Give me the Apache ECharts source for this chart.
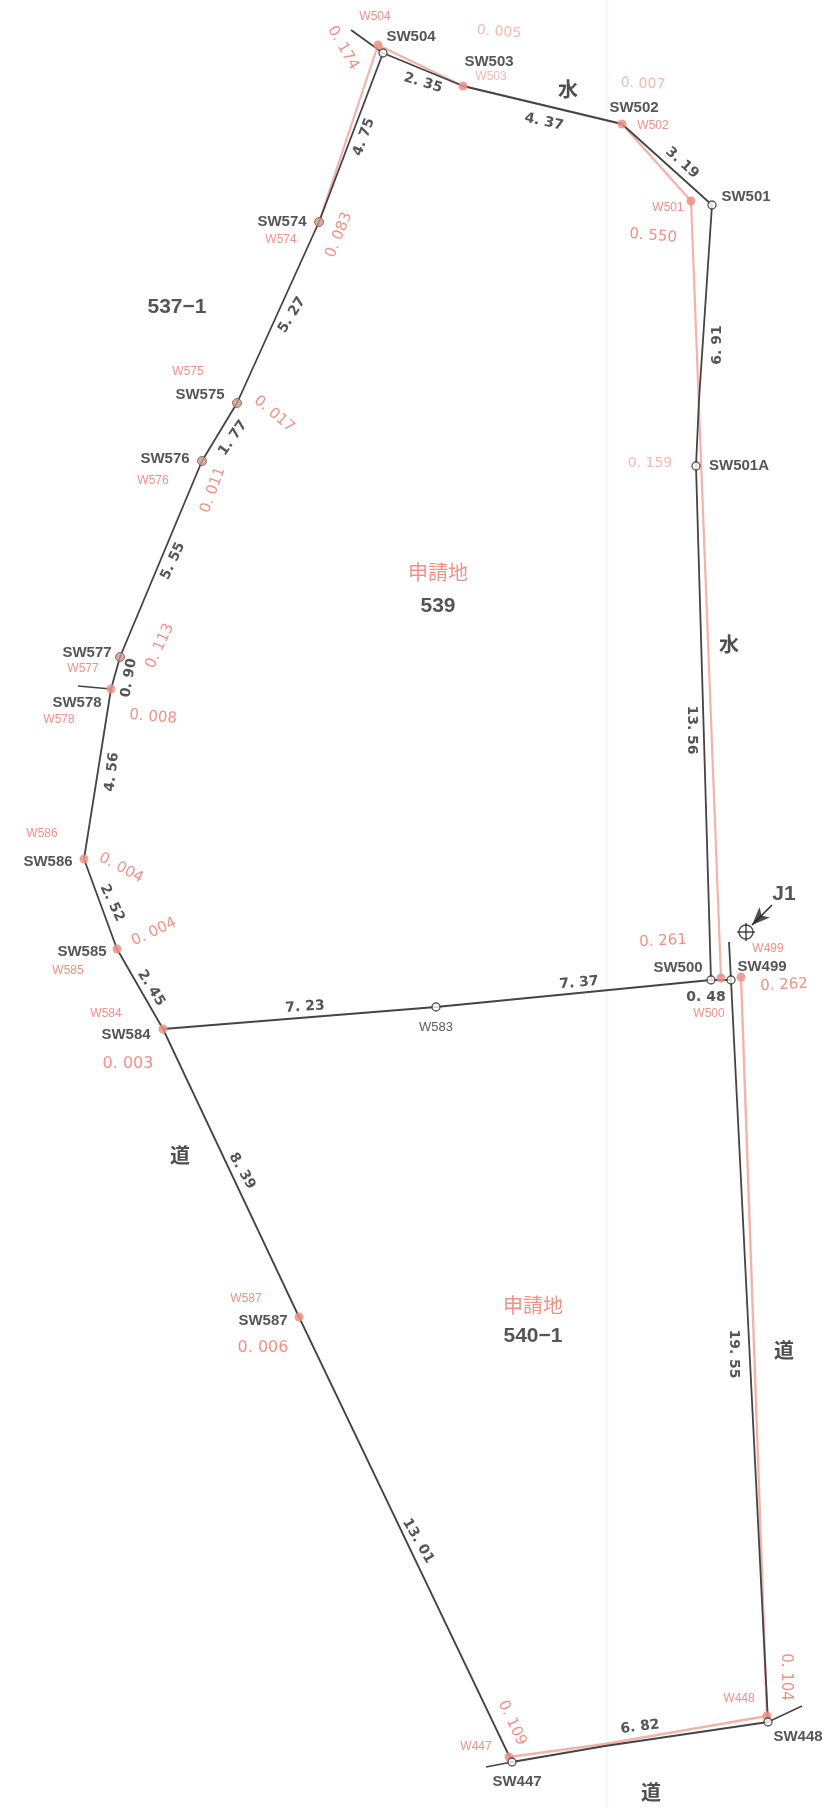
<!DOCTYPE html>
<html><head><meta charset="utf-8">
<style>html,body{margin:0;padding:0;background:#fff}#c{width:826px;height:1809px}</style>
<script src="https://cdn.jsdelivr.net/npm/echarts@6/dist/echarts.min.js"></script>
</head><body><div id="c"></div>
<script>
// boundary polylines
const boundaryNorth = [[351,30],[383,53],[463,86],[622,124],[712,205],[699,400],[696,466],[711,980]];
const boundaryWest = [[383,53],[319,222],[237,403],[202,461],[120,657],[111,689],[84,859],[117,949],[163,1029],[299,1317],[512,1762],[605,1746],[768,1722],[731,980],[729,942]];
const boundaryMiddle = [[163,1029],[436,1007],[711,980],[731,980]];
const stubs = [[[486,1767],[512,1762]],[[768,1722],[802,1706]],[[78,686],[111,689]]];
const oldLineA = [[319,222],[378,45],[463,86],[622,124],[691,201],[721,978]];
const oldLineB = [[741,977],[767,1716],[605,1744],[509,1757]];
const foldLine = [[607,0],[607,1809]];
const openNodes = [[383,53],[712,205],[696,466],[436,1007],[711,980],[731,980],[768,1722],[512,1762]];
const brownNodes = [[319,222],[237,403],[202,461],[120,657]];
const redNodes = [[378,45],[463,86],[622,124],[691,201],[111,689],[84,859],[117,949],[163,1029],[299,1317],[721,978],[741,977],[767,1716],[509,1757]];
const j1Mark = [[746,932]];
const j1Cross = [[[737,932],[755,932]],[[746,923],[746,941]]];
const j1Arrow = [[772,905],[752,925]];
const stationLabels = [
 ['SW504',411,37],['SW503',489,62],['SW502',634,108],['SW501',746,197],['SW574',282,222],['SW575',200,395],
 ['SW576',165,459],['SW577',87,653],['SW578',77,703],['SW586',48,862],['SW585',82,952],['SW584',126,1035],
 ['SW500',678,968],['SW499',762,967],['SW501A',739,466],['SW587',263,1321],['SW448',798,1737],['SW447',517,1782]];
const redStations = [
 ['W504',375,17],['W502',653,126],['W501',668,208],['W574',281,240],['W575',188,372],['W576',153,481],
 ['W577',83,669],['W578',59,720],['W586',42,834],['W585',68,971],['W584',106,1014],['W587',246,1299],['W500',709,1014],
 ['W499',768,949],['W448',739,1699],['W447',476,1747]];
const paleStations = [['W503',491,77]];
const offsets = [
 ['0. 174',343,48,-60],['0. 550',653,236,-5],['0. 083',339,235,68],
 ['0. 017',274,414,-40],['0. 011',213,490,70],['0. 113',160,646,65],['0. 008',153,717,-5],['0. 004',121,868,-28],
 ['0. 004',154,932,25],['0. 261',663,941,3],
 ['0. 262',784,985,3],['0. 109',512,1723,-65],['0. 104',786,1677,-90]];
const paleOffsets = [['0. 005',499,32,-5],['0. 007',643,84,-3],['0. 159',650,463,0]];
const largeOffsets = [['0. 003',128,1064,0],['0. 006',263,1348,0]];
const distances = [
 ['2. 35',423,83,-17],['4. 37',544,122,-12],['3. 19',682,163,-42],['4. 75',364,137,70],['5. 27',292,315,58],
 ['1. 77',233,438,55],['5. 55',173,561,65],['0. 90',129,678,80],['4. 56',112,772,83],['2. 52',112,903,-65],
 ['2. 45',151,988,-58],['7. 23',305,1007,4],['7. 37',579,983,5],['0. 48',706,997,0],['6. 91',717,345,90],
 ['13. 56',692,730,-90],['8. 39',242,1171,-60],['13. 01',418,1541,-60],['19. 55',734,1354,-90],['6. 82',640,1727,7]];
const parcels = [['537−1',177,307],['539',438,606],['540−1',533,1336],['J1',784,894]];
const parcelTitles = [['申請地',438,572],['申請地',533,1305]];
const landUse = [['水',568,89],['水',729,644],['道',180,1155],['道',784,1350],['道',651,1792]];
const smallLabels = [['W583',436,1027]];

const BLACK = '#444', RED = '#ee7468', PALE = '#f3b3aa', FAINT = '#f2a89e';
function poly(data, color, width, z){
  return {type:'line', data, symbol:'none', silent:true, z:z||2, lineStyle:{color, width}};
}
function texts(rows, font){
  return {type:'scatter', symbolSize:0, silent:true, z:6,
    data: rows.map(r => ({value:[r[1],r[2]], name:r[0],
      label:{show:true, position:'inside', align:'center', verticalAlign:'middle', formatter:r[0], rotate:r[3]||0, ...font}}))};
}
function nodes(data, size, style){
  return {type:'scatter', data, symbol:'circle', symbolSize:size, silent:true, z:4, itemStyle:style};
}
const LIB = '"Liberation Sans", Arial, sans-serif', DJ = '"DejaVu Sans", sans-serif', CJK = '"Noto Sans CJK JP", sans-serif';
const series = [
  poly(foldLine, '#f8f8f8', 3, 1),
  poly(oldLineA, PALE, 2.2, 2), poly(oldLineB, PALE, 2.4, 2),
  poly(boundaryNorth, BLACK, 1.8, 3), poly(boundaryWest, BLACK, 1.8, 3), poly(boundaryMiddle, BLACK, 1.8, 3),
  ...stubs.map(s => poly(s, BLACK, 1.4, 3)),
  ...j1Cross.map(s => poly(s, '#222', 1.2, 3)),
  poly(j1Arrow, '#222', 1.4, 3),
  {type:'scatter', data:[j1Arrow[1]], symbol:'arrow', symbolSize:[11,18], symbolRotate:135, silent:true, z:5, itemStyle:{color:'#222'}},
  nodes(redNodes, 9, {color:'#ec9086', opacity:.85}),
  nodes(brownNodes, 9, {color:'#d09a8a', borderColor:'#7a5a50', borderWidth:1}),
  nodes(openNodes, 8, {color:'#fff', borderColor:'#333', borderWidth:1.4}),
  nodes(j1Mark, 14, {color:'transparent', borderColor:'#222', borderWidth:1.4}),
  texts(stationLabels, {fontFamily:LIB, fontWeight:'bold', fontSize:15, color:'#2b2b2b'}),
  texts(redStations, {fontFamily:LIB, fontSize:12, color:RED}),
  texts(paleStations, {fontFamily:LIB, fontSize:12, color:FAINT}),
  texts(offsets, {fontFamily:DJ, fontSize:15, color:RED}),
  texts(paleOffsets, {fontFamily:DJ, fontSize:14, color:FAINT}),
  texts(largeOffsets, {fontFamily:DJ, fontSize:16, color:RED}),
  texts(distances, {fontFamily:DJ, fontWeight:'bold', fontSize:14, color:'#2b2b2b'}),
  texts(parcels, {fontFamily:LIB, fontWeight:'bold', fontSize:21, color:'#2b2b2b'}),
  texts(parcelTitles, {fontFamily:CJK, fontSize:20, color:RED}),
  texts(landUse, {fontFamily:CJK, fontWeight:'bold', fontSize:20, color:'#222'}),
  texts(smallLabels, {fontFamily:LIB, fontSize:13, color:'#333'})
];
const chart = echarts.init(document.getElementById('c'), null, {renderer:'canvas'});
chart.setOption({
  animation:false, backgroundColor:'#fff',
  grid:{left:0,right:0,top:0,bottom:0},
  xAxis:{type:'value',min:0,max:826,show:false},
  yAxis:{type:'value',min:0,max:1809,inverse:true,show:false},
  series
});
</script></body></html>
